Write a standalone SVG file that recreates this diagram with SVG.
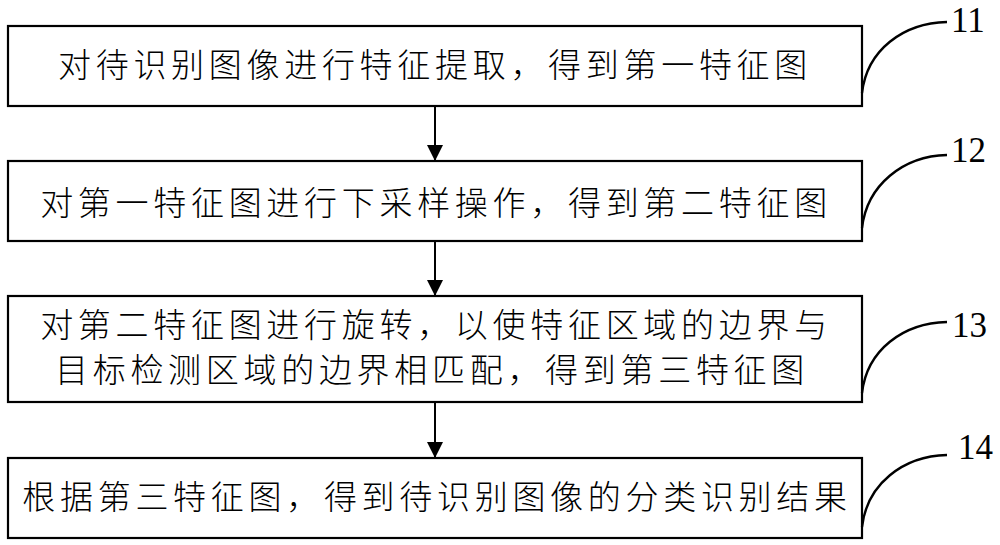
<svg xmlns="http://www.w3.org/2000/svg" width="1000" height="545" viewBox="0 0 1000 545">
<style>
.box{fill:#fff;stroke:#000;stroke-width:2.2}
.t{font-family:"Noto Sans CJK SC","Noto Sans",sans-serif;font-size:33px;font-weight:300;letter-spacing:4.7px;fill:#000;text-anchor:middle}
.num{font-family:"Liberation Serif",serif;font-size:35px;fill:#000}
.lead{fill:none;stroke:#000;stroke-width:2.4}
.arr{stroke:#000;stroke-width:2;fill:none}
</style>
<defs>
<marker id="ah" markerWidth="16" markerHeight="16" refX="16" refY="8" orient="auto" markerUnits="userSpaceOnUse">
<path d="M0,0 L16,8 L0,16 Z" fill="#000"/>
</marker>
</defs>
<rect width="1000" height="545" fill="#fff"/>
<g id="n11">
<rect class="box" x="8" y="26" width="854" height="80"/>
<text class="t" x="435" y="77">对待识别图像进行特征提取，得到第一特征图</text>
</g>
<g id="n12">
<rect class="box" x="8" y="161" width="854" height="80"/>
<text class="t" x="436" y="215">对第一特征图进行下采样操作，得到第二特征图</text>
</g>
<g id="n13">
<rect class="box" x="8" y="296" width="854" height="106"/>
<text class="t" x="436" y="337">对第二特征图进行旋转，以使特征区域的边界与</text>
<text class="t" x="432" y="382">目标检测区域的边界相匹配，得到第三特征图</text>
</g>
<g id="n14">
<rect class="box" x="8" y="458" width="854" height="80"/>
<text class="t" x="437" y="509">根据第三特征图，得到待识别图像的分类识别结果</text>
</g>
<g id="connectors">
<line class="arr" x1="435" y1="106" x2="435" y2="161" marker-end="url(#ah)"/>
<line class="arr" x1="435" y1="241" x2="435" y2="296" marker-end="url(#ah)"/>
<line class="arr" x1="435" y1="402" x2="435" y2="458" marker-end="url(#ah)"/>
</g>
<g id="labels">
<path class="lead" d="M862,93 C867,50 903,23 947,22"/>
<text class="num" x="951" y="32">11</text>
<path class="lead" d="M862,228 C867,185 903,156 947,155"/>
<text class="num" x="951" y="162">12</text>
<path class="lead" d="M862,393 C867,350 903,323 947,322"/>
<text class="num" x="952" y="337">13</text>
<path class="lead" d="M862,527 C867,484 903,456 947,455"/>
<text class="num" x="958" y="459">14</text>
</g>
</svg>
